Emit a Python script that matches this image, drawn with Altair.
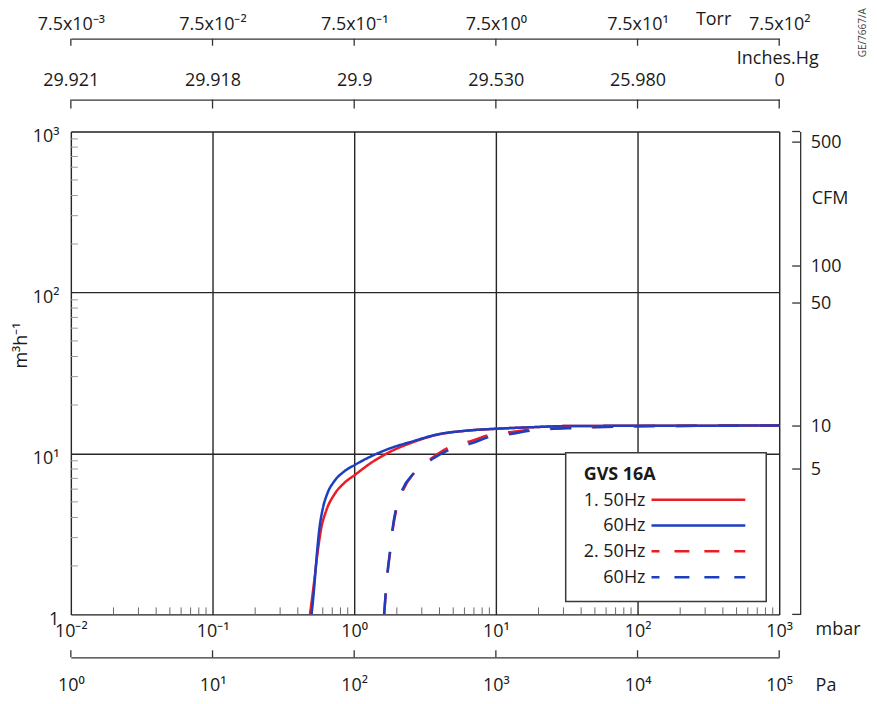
import json
import altair as alt
import pandas as pd

# ---------------- data ----------------
decades_mbar = [0.01, 0.1, 1, 10, 100, 1000]
mbar_labels = ["10⁻²", "10⁻¹", "10⁰", "10¹", "10²", "10³"]
pa_labels = ["10⁰", "10¹", "10²", "10³", "10⁴", "10⁵"]
torr_labels = ["7.5x10⁻³", "7.5x10⁻²", "7.5x10⁻¹", "7.5x10⁰", "7.5x10¹", "7.5x10²"]
inhg_labels = ["29.921", "29.918", "29.9", "29.530", "25.980", "0"]
flow_decades = [1, 10, 100, 1000]
flow_labels = ["1", "10¹", "10²", "10³"]
cfm_labels = ["500", "100", "50", "10", "5"]
cfm_at_m3h = [859, 146, 86, 14.8, 8.0]
minor_mult = [2, 3, 4, 5, 6, 7, 8, 9]

series_names = ["1. 50Hz", "1. 60Hz", "2. 50Hz", "2. 60Hz"]
legend_labels = ["1. 50Hz", "60Hz", "2. 50Hz", "60Hz"]
legend_title = "GVS 16A"

# pressure (mbar) / pumping speed (m3/h)
p_1_50 = [0.4875, 0.517, 0.5514, 0.5828, 0.6321, 0.7228, 0.8503, 1.016, 1.311, 1.813, 2.574, 3.762,
          6.45, 9.95, 19.04, 32.7, 100, 300, 1000]
q_1_50 = [1.0, 1.498, 2.413, 3.365, 4.37, 5.55, 6.55, 7.38, 8.72, 10.29, 11.70, 13.0,
          13.88, 14.22, 14.58, 14.8, 14.85, 14.88, 14.9]
p_1_60 = [0.5004, 0.5229, 0.5462, 0.5669, 0.598, 0.6486, 0.7228, 0.8503, 1.016, 1.311, 1.813, 2.574,
          3.762, 6.45, 9.95, 19.04, 32.7, 100, 300, 1000]
q_1_60 = [1.0, 1.498, 2.413, 3.365, 4.477, 5.68, 6.71, 7.73, 8.51, 9.58, 10.80, 11.87,
          13.06, 13.89, 14.23, 14.58, 14.8, 14.85, 14.88, 14.9]
p_2_50 = [1.627, 1.72, 1.79, 1.87, 1.98, 2.21, 2.66, 3.56, 4.667, 6.81, 9.18, 13.03, 18.02, 38, 100, 300, 1000]
q_2_50 = [1.0, 1.8, 2.4, 3.35, 4.45, 5.9, 7.6, 9.4, 10.9, 12.0, 13.1, 13.6, 14.1, 14.5, 14.75, 14.85, 14.9]
p_2_60 = [1.627, 1.716, 1.784, 1.861, 1.967, 2.188, 2.646, 3.559, 4.667, 6.81, 9.18, 13.03, 18.02, 38,
          100, 300, 1000]
q_2_60 = [1.0, 1.813, 2.413, 3.365, 4.477, 5.957, 7.56, 9.23, 10.54, 11.60, 12.75, 13.25, 13.89, 14.4,
          14.75, 14.85, 14.9]

# ---------------- tables ----------------
frames = []
for name, p, q in zip(series_names, [p_1_50, p_1_60, p_2_50, p_2_60], [q_1_50, q_1_60, q_2_50, q_2_60]):
    frames.append(pd.DataFrame({"P": p, "Q": q, "series": name}))
curve_df = pd.concat(frames, ignore_index=True)

W, H = 710, 484
FONT = "Open Sans"
TXT = "#1a1a1a"
LINE = "#333333"
RED = "#ec1c24"
BLUE = "#1b3fc0"

xs = alt.Scale(type="log", domain=[0.01, 1000], nice=False)
ys = alt.Scale(type="log", domain=[1, 1000], nice=False)


def lab_expr(values, labels):
    return f"{json.dumps(labels, ensure_ascii=False)}[indexof({json.dumps(values)}, datum.value)]"


BASE = dict(labelFont=FONT, labelFontSize=18, labelColor=TXT, titleFont=FONT, titleFontSize=18,
            titleColor=TXT, titleFontWeight="normal", labelFlush=False, labelOverlap=False,
            ticks=False, tickSize=0, domainColor=LINE, domainWidth=1.3)


def axis(**kw):
    d = dict(BASE)
    d.update(kw)
    return alt.Axis(**d)


mbar_axis = axis(orient="bottom", values=decades_mbar, labelExpr=lab_expr(decades_mbar, mbar_labels),
                 grid=True, gridColor="#262626", gridWidth=1.4, domain=False, labelPadding=8,
                 title="mbar", titleX=746, titleY=15, titleAlign="left", titleBaseline="middle", titleAngle=0)
flow_axis = axis(orient="left", values=flow_decades, labelExpr=lab_expr(flow_decades, flow_labels),
                 grid=True, gridColor="#262626", gridWidth=1.4, domain=False, labelPadding=12,
                 labelOffset=5, labelBaseline="middle",
                 title="m³h⁻¹", titleX=-49, titleY=214, titleAngle=270, titleAlign="center",
                 titleBaseline="middle")

curves = alt.Chart(curve_df).mark_line(strokeWidth=2.5, interpolate="monotone").encode(
    x=alt.X("P:Q", scale=xs, axis=mbar_axis),
    y=alt.Y("Q:Q", scale=ys, axis=flow_axis),
    color=alt.Color("series:N", scale=alt.Scale(domain=series_names, range=[RED, BLUE, RED, BLUE]), legend=None),
    strokeDash=alt.StrokeDash("series:N", scale=alt.Scale(domain=series_names,
                                                          range=[[1, 0], [1, 0], [21, 21], [21, 21]]),
                              legend=None),
)

# minor ticks (inward)
xminor_df = pd.DataFrame({"v": [m * d for d in decades_mbar[:-1] for m in minor_mult]})
yminor_df = pd.DataFrame({"v": [m * d for d in flow_decades[:-1] for m in minor_mult]})
xminor = alt.Chart(xminor_df).mark_rule(color="#6a6a6a", strokeWidth=1).encode(
    x=alt.X("v:Q", scale=xs, axis=None), y=alt.value(H), y2=alt.value(H - 7))
yminor = alt.Chart(yminor_df).mark_rule(color="#9a9a9a", strokeWidth=1).encode(
    y=alt.Y("v:Q", scale=ys, axis=None), x=alt.value(0), x2=alt.value(7))

dec_df = pd.DataFrame({"v": decades_mbar})


def scale_layer(orient, line_y, tick_len, labels, pad, title, tx, ty):
    offset = -line_y if orient == "top" else line_y - H
    ax = axis(orient=orient, offset=offset, values=decades_mbar, labelExpr=lab_expr(decades_mbar, labels),
              grid=False, domain=True, labelPadding=pad, title=title, titleX=tx, titleY=ty,
              titleAlign="left", titleBaseline="middle", titleAngle=0)
    return alt.Chart(dec_df).mark_rule(color=LINE, strokeWidth=1.3).encode(
        x=alt.X("v:Q", scale=xs, axis=ax), y=alt.value(line_y), y2=alt.value(line_y + tick_len))


torr = scale_layer("top", -93, 7, torr_labels, 5, "Torr", 626, -19)
inhg = scale_layer("top", -32, 9, inhg_labels, 10, "Inches.Hg", 667, -41)
pa = scale_layer("bottom", 527, -7, pa_labels, 19, "Pa", 746, 28)

cfm_axis = axis(orient="right", offset=21, values=cfm_at_m3h, labelExpr=lab_expr(cfm_at_m3h, cfm_labels),
                grid=False, domain=True, labelPadding=10, labelBaseline="middle",
                title="CFM", titleX=11, titleY=67, titleAlign="left", titleBaseline="middle", titleAngle=0)
cfm_df = pd.DataFrame({"v": cfm_at_m3h + [1, 1000]})
cfm = alt.Chart(cfm_df).mark_rule(color=LINE, strokeWidth=1.3).encode(
    y=alt.Y("v:Q", scale=ys, axis=cfm_axis), x=alt.value(W + 21 - 8), x2=alt.value(W + 21))

one = pd.DataFrame({"a": [0]})
box = alt.Chart(one).mark_rect(fill="white", stroke="#3a3a3a", strokeWidth=1.5).encode(
    x=alt.value(496), x2=alt.value(697), y=alt.value(322), y2=alt.value(471))
ltitle = alt.Chart(one).mark_text(font=FONT, fontSize=18, fontWeight="bold", align="left",
                                  baseline="middle", color=TXT).encode(
    x=alt.value(514), y=alt.value(344), text=alt.value(legend_title))

legend_layers = []
colors = [RED, BLUE, RED, BLUE]
dashes = [None, None, [15, 15], [15, 15]]
for i, lab in enumerate(legend_labels):
    yy = 370 + i * 25.9
    legend_layers.append(alt.Chart(one).mark_text(font=FONT, fontSize=18, align="right", baseline="middle",
                                                  color=TXT).encode(
        x=alt.value(576), y=alt.value(yy), text=alt.value(lab)))
    rule_kw = dict(color=colors[i], strokeWidth=2.5)
    if dashes[i] is not None:
        rule_kw.update(strokeDash=dashes[i], strokeDashOffset=7)
    legend_layers.append(alt.Chart(one).mark_rule(**rule_kw).encode(
        x=alt.value(582), x2=alt.value(676), y=alt.value(yy - 1)))

ge = alt.Chart(one).mark_text(font=FONT, fontSize=10, angle=270, align="center", baseline="middle",
                              color="#444").encode(
    x=alt.value(794), y=alt.value(-99), text=alt.value("GE/7667/A"))

chart = alt.layer(xminor, yminor, curves, torr, inhg, pa, cfm, box, ltitle, *legend_layers, ge).resolve_axis(
    x="independent", y="independent"
).properties(
    width=W, height=H,
    padding={"left": 63, "top": 123, "right": 90, "bottom": 80},
    autosize=alt.AutoSizeParams(type="none"),
).configure_view(stroke="#111111", strokeWidth=2.5).configure(font=FONT)

chart.save("out.html", embed_options={"renderer": "svg", "actions": False})
